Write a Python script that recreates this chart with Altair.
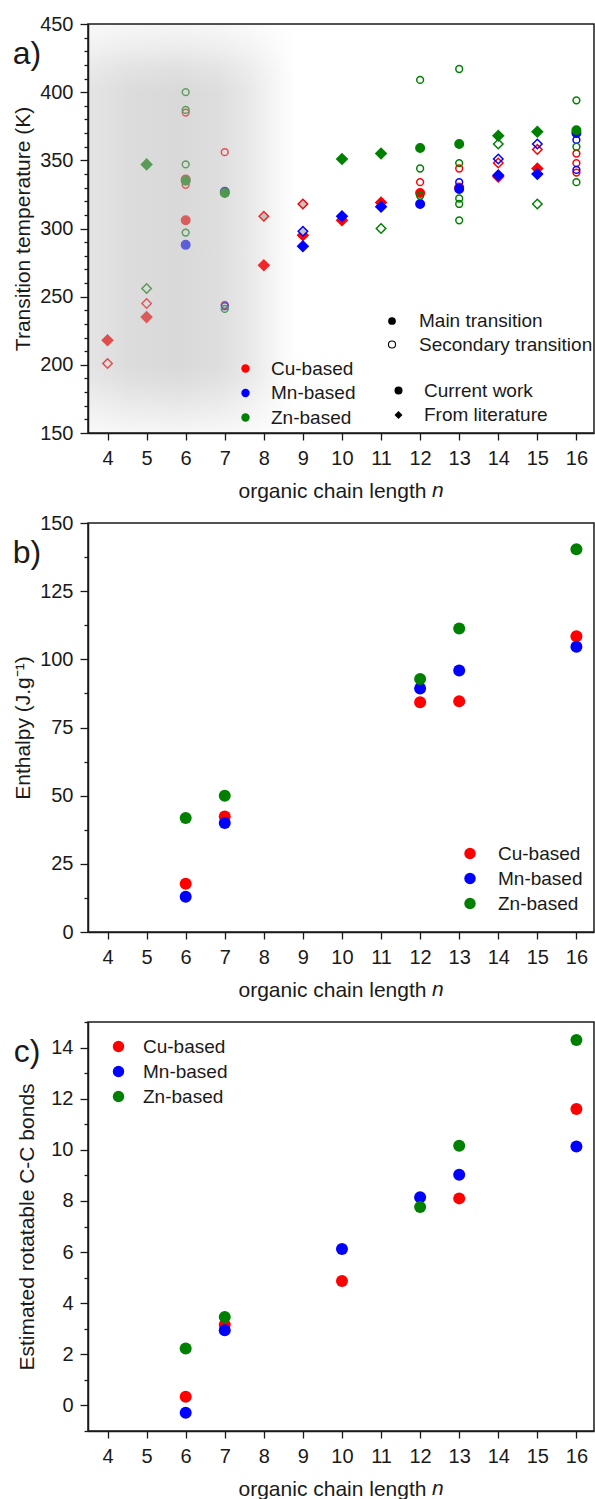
import altair as alt
import pandas as pd

FONT = "Liberation Sans"
INK = "#1a1a1a"

metals = ["Cu-based", "Mn-based", "Zn-based"]
metal_colors = ["#ff0000", "#0000ff", "#008000"]
sources = ["Current work", "From literature"]
transitions = ["Main transition", "Secondary transition"]
panel_labels = ["a)", "b)", "c)"]
x_ticks = list(range(4, 17))
x_title = "organic chain length"
x_title_var = "n"
y_titles = ["Transition temperature (K)", "Enthalpy (J.g\u207b\u00b9)", "Estimated rotatable C-C bonds"]

# ---------------- panel a : transition temperature (K) ----------------
# current work (circles)
cu_main_cur_n = [6, 6, 12, 13]
cu_main_cur_T = [336, 306, 326, 330]
cu_sec_cur_n = [6, 6, 7, 7, 12, 13, 16, 16, 16]
cu_sec_cur_T = [385, 332, 356, 244, 334, 344, 355, 348, 341]
mn_main_cur_n = [6, 7, 12, 13, 16]
mn_main_cur_T = [288, 327, 318, 329, 370]
mn_sec_cur_n = [7, 13, 16, 16]
mn_sec_cur_T = [243, 334, 365, 343]
zn_main_cur_n = [6, 7, 12, 13, 16]
zn_main_cur_T = [335, 326, 359, 362, 372]
zn_sec_cur_n = [6, 6, 6, 6, 7, 12, 12, 12, 13, 13, 13, 13, 13, 16, 16, 16]
zn_sec_cur_T = [400, 387, 347, 297, 241, 409, 344, 324, 417, 348, 322, 318, 306, 394, 360, 334]
# literature (diamonds)
cu_main_lit_n = [4, 5, 8, 9, 10, 11, 14, 15]
cu_main_lit_T = [218, 235, 273, 295, 306, 319, 338, 344]
cu_sec_lit_n = [4, 5, 14, 15]
cu_sec_lit_T = [201, 245, 348, 358]
mn_main_lit_n = [9, 10, 11, 14, 15]
mn_main_lit_T = [287, 309, 316, 339, 340]
mn_sec_lit_n = [14, 15]
mn_sec_lit_T = [351, 362]
zn_main_lit_n = [5, 10, 11, 14, 15]
zn_main_lit_T = [347, 351, 355, 368, 371]
zn_sec_lit_n = [5, 11, 14, 15]
zn_sec_lit_T = [256, 300, 362, 318]
# literature, secondary, grey-filled symbols
grey_lit_n = [8, 9, 9]
grey_lit_T = [309, 318, 298]
grey_lit_metal = ["Cu-based", "Cu-based", "Mn-based"]

# shaded highlight region (n range, T range) and its top/bottom fades
shade_n = [3.5, 8.8]
shade_T = [150, 450]
fade_top_T = [400, 450]
fade_bottom_T = [150, 200]

# ---------------- panel b : enthalpy ----------------
b_cu_n = [6, 7, 12, 13, 16]
b_cu = [17.7, 42.4, 84.3, 84.6, 108.5]
b_mn_n = [6, 7, 12, 13, 16]
b_mn = [12.9, 40.0, 89.3, 95.9, 104.6]
b_zn_n = [6, 7, 12, 13, 16]
b_zn = [41.8, 50.0, 92.8, 111.3, 140.4]

# ---------------- panel c : rotatable bonds ----------------
c_cu_n = [6, 7, 10, 13, 16]
c_cu = [0.34, 3.16, 4.87, 8.1, 11.6]
c_mn_n = [6, 7, 10, 12, 13, 16]
c_mn = [-0.29, 2.94, 6.12, 8.14, 9.02, 10.13]
c_zn_n = [6, 7, 12, 13, 16]
c_zn = [2.23, 3.46, 7.76, 10.16, 14.3]

# ---------------- tables ----------------
groups_a = [
    ("Cu-based", "Current work", "Main transition", cu_main_cur_n, cu_main_cur_T),
    ("Cu-based", "Current work", "Secondary transition", cu_sec_cur_n, cu_sec_cur_T),
    ("Cu-based", "From literature", "Main transition", cu_main_lit_n, cu_main_lit_T),
    ("Cu-based", "From literature", "Secondary transition", cu_sec_lit_n, cu_sec_lit_T),
    ("Mn-based", "Current work", "Main transition", mn_main_cur_n, mn_main_cur_T),
    ("Mn-based", "Current work", "Secondary transition", mn_sec_cur_n, mn_sec_cur_T),
    ("Mn-based", "From literature", "Main transition", mn_main_lit_n, mn_main_lit_T),
    ("Mn-based", "From literature", "Secondary transition", mn_sec_lit_n, mn_sec_lit_T),
    ("Zn-based", "Current work", "Main transition", zn_main_cur_n, zn_main_cur_T),
    ("Zn-based", "Current work", "Secondary transition", zn_sec_cur_n, zn_sec_cur_T),
    ("Zn-based", "From literature", "Main transition", zn_main_lit_n, zn_main_lit_T),
    ("Zn-based", "From literature", "Secondary transition", zn_sec_lit_n, zn_sec_lit_T),
]
rows = []
for metal, src, tr, ns, ts in groups_a:
    for n, t in zip(ns, ts):
        rows.append({"n": n, "T": t, "metal": metal, "source": src, "transition": tr})
df_a = pd.DataFrame(rows)
df_grey = pd.DataFrame({"n": grey_lit_n, "T": grey_lit_T, "metal": grey_lit_metal})


def metal_df(parts, col):
    out = []
    for metal, ns, vs in parts:
        for n, v in zip(ns, vs):
            out.append({"n": n, col: v, "metal": metal})
    return pd.DataFrame(out)


df_b = metal_df([("Cu-based", b_cu_n, b_cu), ("Mn-based", b_mn_n, b_mn), ("Zn-based", b_zn_n, b_zn)], "H")
df_c = metal_df([("Cu-based", c_cu_n, c_cu), ("Mn-based", c_mn_n, c_mn), ("Zn-based", c_zn_n, c_zn)], "R")
df_shade = pd.DataFrame({"n0": [shade_n[0]], "n1": [shade_n[1]], "T0": [shade_T[0]], "T1": [shade_T[1]],
                         "ft0": [fade_top_T[0]], "ft1": [fade_top_T[1]],
                         "fb0": [fade_bottom_T[0]], "fb1": [fade_bottom_T[1]]})

W, H = 506, 409
xs = alt.Scale(domain=[3.5, 16.45], nice=False, zero=False)
metal_scale = alt.Scale(domain=metals, range=metal_colors)


def x_axis():
    return alt.Axis(values=x_ticks, title=x_title, tickSize=7, labelPadding=8,
                    titleX=244, titleY=64, titleBaseline="alphabetic", titleAlign="center",
                    zindex=1)


def y_axis(title, values, test, title_x):
    return alt.Axis(values=values, title=title,
                    tickSize={"condition": {"test": test, "value": 8}, "value": 4},
                    labelExpr=f"({test}) ? datum.label : ''", labelPadding=7,
                    titleX=title_x, titleY=H / 2, titleAngle=-90, titleBaseline="middle",
                    titleAlign="center", zindex=1)


def decorations(label):
    frame = alt.Chart(pd.DataFrame({"frame": [0]})).mark_rect(
        fillOpacity=0, stroke=INK, strokeWidth=1.5
    ).encode(x=alt.value(0), x2=alt.value("width"), y=alt.value(0), y2=alt.value("height"))
    lab = alt.Chart(pd.DataFrame({"label": [label]})).mark_text(
        font=FONT, fontSize=32, align="center", baseline="middle", color=INK
    ).encode(x=alt.value(-61), y=alt.value(30), text="label:N")
    nvar = alt.Chart(pd.DataFrame({"t": [x_title_var]})).mark_text(
        font=FONT, fontSize=21, fontStyle="italic", align="left", baseline="alphabetic", color=INK
    ).encode(x=alt.value(344), y=alt.value(H + 64), text="t:N")
    return [frame, lab, nvar]


# ---------- panel a ----------
ys_a = alt.Scale(domain=[150, 450], nice=False, zero=False)
ya = y_axis(y_titles[0], list(range(150, 451, 10)), "datum.value % 50 === 0", -65)
xa = x_axis()

pts_a = alt.Chart(df_a).transform_calculate(
    msize="datum.source === 'From literature' ? (datum.transition === 'Main transition' ? 110 : 90)"
          " : (datum.transition === 'Main transition' ? 72 : 46)"
).mark_point(filled=True, strokeWidth=1.5, opacity=1).encode(
    x=alt.X("n:Q", scale=xs, axis=xa),
    y=alt.Y("T:Q", scale=ys_a, axis=ya),
    color=alt.Color("metal:N", scale=metal_scale, legend=alt.Legend(
        orient="none", legendX=148, legendY=335, title=None, symbolType="circle",
        symbolSize=70, symbolStrokeWidth=0, labelOffset=16, rowPadding=4.5, padding=0)),
    stroke=alt.Stroke("metal:N", scale=metal_scale, legend=None),
    fillOpacity=alt.FillOpacity("transition:N", scale=alt.Scale(domain=transitions, range=[1, 0]),
                                legend=None),
    shape=alt.Shape("source:N", scale=alt.Scale(domain=sources, range=["circle", "diamond"]),
                    legend=alt.Legend(orient="none", legendX=301, legendY=357, title=None,
                                      symbolSize=64, symbolFillColor="black", symbolStrokeColor="black",
                                      symbolStrokeWidth=0, labelOffset=16, rowPadding=4.5, padding=0)),
    size=alt.Size("msize:Q", scale=None, legend=None),
)

grey_a = alt.Chart(df_grey).mark_point(shape="diamond", filled=True, fill="#c4c4c4", size=90,
                                       strokeWidth=1.5, opacity=1).encode(
    x=alt.X("n:Q", scale=xs, axis=xa),
    y=alt.Y("T:Q", scale=ys_a, axis=ya),
    stroke=alt.Stroke("metal:N", scale=metal_scale, legend=None),
)


def gstop(offset, rgb, a):
    return {"offset": offset, "color": f"rgba({rgb},{a})"}


gray = "182,182,182"
white = "255,255,255"
gray_grad = {"gradient": "linear", "x1": 0, "y1": 0, "x2": 1, "y2": 0,
             "stops": [gstop(0, gray, 0.36), gstop(0.2, gray, 0.48), gstop(0.44, gray, 0.52),
                       gstop(0.64, gray, 0.45), gstop(0.78, gray, 0.31), gstop(0.88, gray, 0.17),
                       gstop(1, gray, 0)]}
top_grad = {"gradient": "linear", "x1": 0, "y1": 0, "x2": 0, "y2": 1,
            "stops": [gstop(0, white, 0.78), gstop(0.38, white, 0.47), gstop(0.67, white, 0.18),
                      gstop(1, white, 0)]}
bot_grad = {"gradient": "linear", "x1": 0, "y1": 0, "x2": 0, "y2": 1,
            "stops": [gstop(0, white, 0), gstop(0.22, white, 0.1), gstop(0.51, white, 0.35),
                      gstop(1, white, 0.78)]}

shade = alt.Chart(df_shade).mark_rect(fill=gray_grad, clip=True).encode(
    x=alt.X("n0:Q", scale=xs, axis=xa), x2="n1:Q",
    y=alt.Y("T0:Q", scale=ys_a, axis=ya), y2="T1:Q")
fade_top = alt.Chart(df_shade).mark_rect(fill=top_grad, clip=True).encode(
    x=alt.X("n0:Q", scale=xs, axis=xa), x2="n1:Q",
    y=alt.Y("ft0:Q", scale=ys_a, axis=ya), y2="ft1:Q")
fade_bot = alt.Chart(df_shade).mark_rect(fill=bot_grad, clip=True).encode(
    x=alt.X("n0:Q", scale=xs, axis=xa), x2="n1:Q",
    y=alt.Y("fb0:Q", scale=ys_a, axis=ya), y2="fb1:Q")

# legend for main / secondary transition (filled vs open symbol)
tr_main_sym = alt.Chart(pd.DataFrame({"k": [transitions[0]]})).mark_point(
    shape="circle", filled=True, color="black", size=60, opacity=1
).encode(x=alt.value(304), y=alt.value(297))
tr_sec_sym = alt.Chart(pd.DataFrame({"k": [transitions[1]]})).mark_point(
    shape="circle", filled=False, color="black", size=50, strokeWidth=1.1, opacity=1
).encode(x=alt.value(304), y=alt.value(320.5))
tr_main_txt = alt.Chart(pd.DataFrame({"k": [transitions[0]]})).mark_text(
    font=FONT, fontSize=19, align="left", baseline="middle", color=INK
).encode(x=alt.value(331), y=alt.value(297), text="k:N")
tr_sec_txt = alt.Chart(pd.DataFrame({"k": [transitions[1]]})).mark_text(
    font=FONT, fontSize=19, align="left", baseline="middle", color=INK
).encode(x=alt.value(331), y=alt.value(320.5), text="k:N")

panel_a = alt.layer(pts_a, grey_a, shade, fade_top, fade_bot,
                    tr_main_sym, tr_sec_sym, tr_main_txt, tr_sec_txt,
                    *decorations(panel_labels[0])).properties(width=W, height=H)

# ---------- panel b ----------
ys_b = alt.Scale(domain=[0, 150], nice=False, zero=False)
yb = y_axis(y_titles[1], [i * 12.5 for i in range(13)], "datum.value % 25 === 0", -65)
pts_b = alt.Chart(df_b).mark_circle(size=144, opacity=1).encode(
    x=alt.X("n:Q", scale=xs, axis=x_axis()),
    y=alt.Y("H:Q", scale=ys_b, axis=yb),
    color=alt.Color("metal:N", scale=metal_scale, legend=alt.Legend(
        orient="none", legendX=372.5, legendY=321, title=None, symbolType="circle",
        symbolSize=130, labelOffset=18.5, rowPadding=5, padding=0)),
)
panel_b = alt.layer(pts_b, *decorations(panel_labels[1])).properties(width=W, height=H)

# ---------- panel c ----------
ys_c = alt.Scale(domain=[-1, 15], nice=False, zero=False)
yc = y_axis(y_titles[2], list(range(-1, 16)), "datum.value % 2 === 0", -61)
pts_c = alt.Chart(df_c).mark_circle(size=144, opacity=1).encode(
    x=alt.X("n:Q", scale=xs, axis=x_axis()),
    y=alt.Y("R:Q", scale=ys_c, axis=yc),
    color=alt.Color("metal:N", scale=metal_scale, legend=alt.Legend(
        orient="none", legendX=21, legendY=15, title=None, symbolType="circle",
        symbolSize=130, labelOffset=15, rowPadding=5, padding=0)),
)
panel_c = alt.layer(pts_c, *decorations(panel_labels[2])).properties(width=W, height=H)

chart = alt.vconcat(panel_a, panel_b, panel_c, spacing=90, bounds="flush").resolve_scale(
    color="independent", stroke="independent", shape="independent", fillOpacity="independent"
).resolve_legend(color="independent").properties(
    padding={"left": 12, "top": 14, "right": 0, "bottom": 0}
).configure_view(stroke=None).configure_axis(
    labelFont=FONT, titleFont=FONT, labelFontSize=20, titleFontSize=21, titleFontWeight="normal",
    labelColor=INK, titleColor=INK, domainColor=INK, tickColor=INK, domainWidth=1.5,
    tickWidth=1.3, grid=False
).configure_legend(labelFont=FONT, labelFontSize=19, labelColor=INK)

chart.save("out.html", embed_options={"renderer": "svg", "actions": False})
